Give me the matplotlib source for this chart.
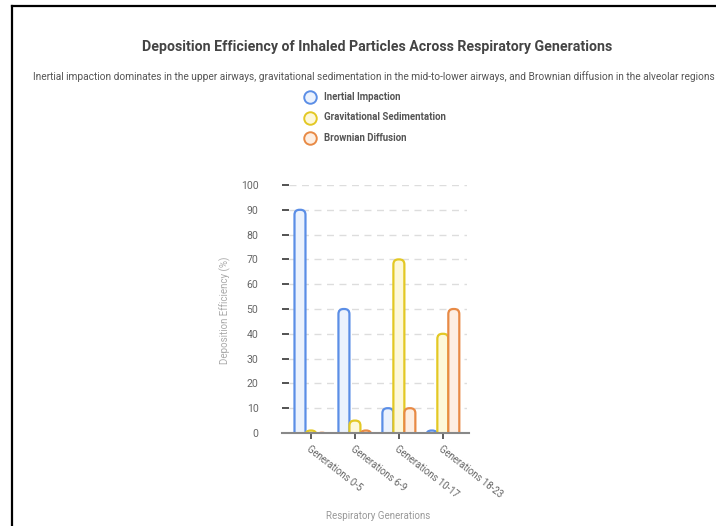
import numpy as np
import matplotlib
matplotlib.use("Agg")
import matplotlib.pyplot as plt
from matplotlib.patches import FancyBboxPatch
from matplotlib.lines import Line2D

plt.rcParams["font.family"] = ["Roboto", "DejaVu Sans"]

categories = ["Generations 0-5", "Generations 6-9", "Generations 10-17", "Generations 18-23"]
series_names = ["Inertial Impaction", "Gravitational Sedimentation", "Brownian Diffusion"]
inertial = [90, 50, 10, 1]
sedimentation = [1, 5, 70, 40]
diffusion = [0.1, 1, 10, 50]

edge_colors = ["#5b8ee6", "#e3c824", "#e88a45"]
fill_colors = ["#ebf2fd", "#fdf8d9", "#fdeee2"]

W, H = 716, 526
fig = plt.figure(figsize=(W / 100, H / 100), dpi=100)


def fx(px):
    return px / W


def fy(py):
    return 1 - py / H


# page frame (left + top only)
fig.add_artist(Line2D([fx(12), fx(12)], [fy(6), 0], transform=fig.transFigure, color="black", lw=1.6))
fig.add_artist(Line2D([fx(12), 1], [fy(6), fy(6)], transform=fig.transFigure, color="black", lw=1.6))

# axes placed by pixel position
left, right, top, bottom = 289, 467, 185, 433
ax = fig.add_axes([fx(left), fy(bottom), (right - left) / W, (bottom - top) / H])
ax.set_xlim(-0.5, 3.55)
ax.set_ylim(0, 100)

x = np.arange(len(categories))
bar_w = 0.25
px_per_x = (right - left) / 4.05
px_per_y = (bottom - top) / 100
aspect = px_per_x / px_per_y
r = 5 / px_per_x

# bars with rounded tops (bottom corners pushed below the axis and clipped)
for i, vals in enumerate([inertial, sedimentation, diffusion]):
    for xi, v in zip(x, vals):
        x0 = xi + (i - 1) * bar_w - bar_w / 2
        ext = r * aspect
        p = FancyBboxPatch((x0, -ext), bar_w, v + ext,
                           boxstyle=f"round,pad=0,rounding_size={r}",
                           mutation_aspect=aspect,
                           facecolor=fill_colors[i], edgecolor=edge_colors[i],
                           lw=1.6, zorder=3)
        ax.add_patch(p)

ax.set_yticks(range(0, 101, 10))
ax.tick_params(axis="y", length=5, width=1.3, color="#444444", pad=17,
               labelsize=7.6, labelcolor="#666666")
ax.set_xticks(x)
ax.set_xticklabels(categories, rotation=-38, ha="left", va="top",
                   rotation_mode="anchor", fontsize=6.9, color="#666666")
ax.tick_params(axis="x", length=4, width=1.2, color="#444444", pad=4)

ax.grid(axis="y", color="#dddddd", linestyle=(0, (5, 4)), lw=1, zorder=0)
for s in ["left", "top", "right", "bottom"]:
    ax.spines[s].set_visible(False)
ax.plot([-0.66, 3.6], [0, 0], color="#888888", lw=1.5, clip_on=False, zorder=5)

fig.text(fx(225), fy(310), "Deposition Efficiency (%)", rotation=90, ha="center",
         va="center", fontsize=7, color="#aaaaaa")
fig.text(fx(378), fy(516), "Respiratory Generations", ha="center", va="center",
         fontsize=7, color="#999999")

fig.text(fx(377), fy(47), "Deposition Efficiency of Inhaled Particles Across Respiratory Generations",
         ha="center", va="center", fontsize=10.2, fontweight="bold", color="#444444")
fig.text(fx(374), fy(77), "Inertial impaction dominates in the upper airways, gravitational sedimentation "
         "in the mid-to-lower airways, and Brownian diffusion in the alveolar regions",
         ha="center", va="center", fontsize=7.3, color="#555555")

for i, name in enumerate(series_names):
    yy = 97 + i * 20.5
    fig.add_artist(Line2D([fx(310)], [fy(yy)], transform=fig.transFigure, marker="o",
                          markersize=9, markerfacecolor=fill_colors[i],
                          markeredgecolor=edge_colors[i], markeredgewidth=1.4, lw=0))
    fig.text(fx(324), fy(yy), name, ha="left", va="center", fontsize=6.9,
             fontweight="bold", color="#555555")

fig.savefig("out.png", dpi=100)
